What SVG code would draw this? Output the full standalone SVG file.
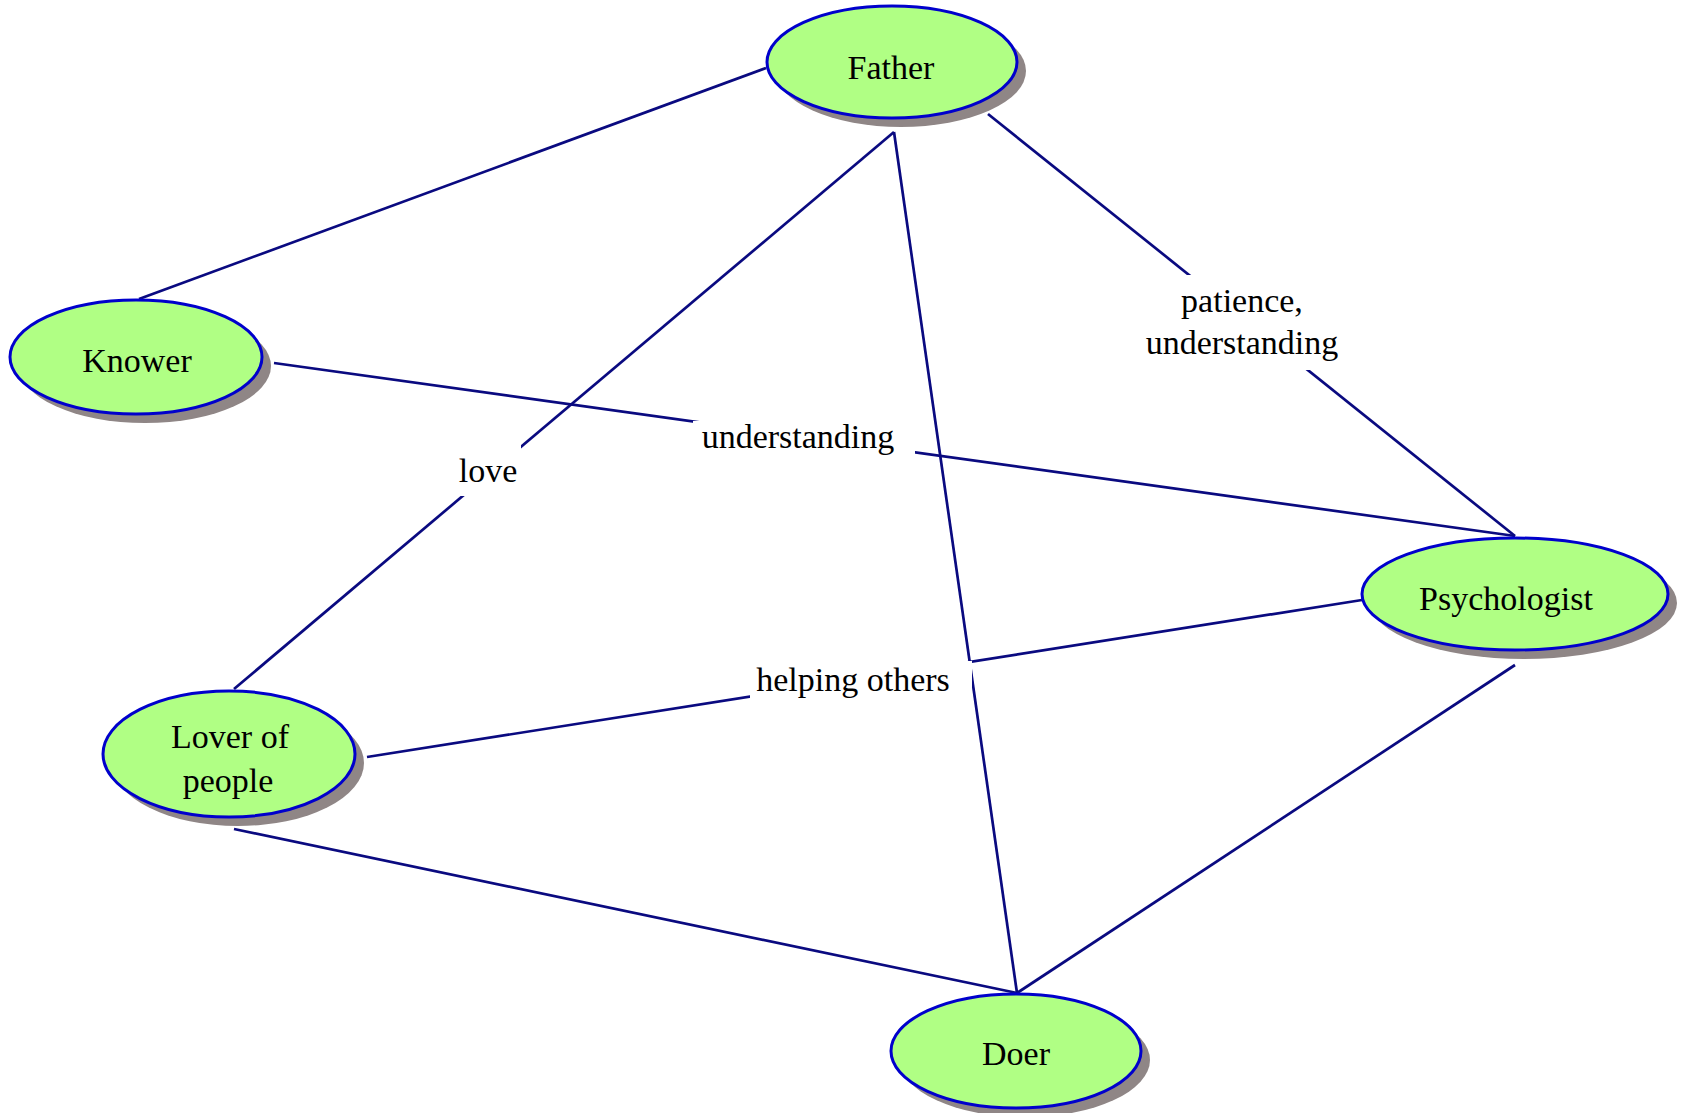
<svg xmlns="http://www.w3.org/2000/svg" width="1682" height="1113" viewBox="0 0 1682 1113">
<style>
.edge{stroke:#0a0a80;stroke-width:2.7;fill:none}
.shadow{fill:#8f8686}
.node{fill:#b0ff84;stroke:#0000cc;stroke-width:3}
text{font-family:"Liberation Serif","Times New Roman",serif;font-size:34px;fill:#000;text-anchor:middle}
.lblbg{fill:#fff}
</style>
<rect width="1682" height="1113" fill="#fff"/>
<g id="connectors">
<line class="edge" x1="766" y1="68" x2="139" y2="299"/>
<line class="edge" x1="894" y1="132" x2="234" y2="689"/>
<line class="edge" x1="894" y1="132" x2="1017" y2="993"/>
<line class="edge" x1="988" y1="114" x2="1515" y2="536"/>
<line class="edge" x1="274" y1="363" x2="1515" y2="536"/>
<line class="edge" x1="367" y1="757" x2="1362" y2="600"/>
<line class="edge" x1="234" y1="829" x2="1017" y2="993"/>
<line class="edge" x1="1515" y1="665" x2="1017" y2="993"/>
<g id="label-love">
<rect class="lblbg" x="456" y="444" width="65" height="52"/>
<text x="488" y="482">love</text>
</g>
<g id="label-understanding">
<rect class="lblbg" x="693" y="421" width="222" height="40"/>
<text x="798" y="448">understanding</text>
</g>
<g id="label-patience">
<rect class="lblbg" x="1140" y="275" width="204" height="95"/>
<text x="1242" y="312">patience,</text>
<text x="1242" y="354">understanding</text>
</g>
<g id="label-helping">
<rect class="lblbg" x="750" y="661" width="222" height="44"/>
<text x="853" y="691">helping others</text>
</g>
</g>
<g id="node-father">
<ellipse class="shadow" cx="901" cy="71" rx="125" ry="56"/>
<ellipse class="node" cx="892" cy="62" rx="125" ry="56"/>
<text x="891" y="79">Father</text>
</g>
<g id="node-knower">
<ellipse class="shadow" cx="145" cy="366" rx="126" ry="57"/>
<ellipse class="node" cx="136" cy="357" rx="126" ry="57"/>
<text x="137" y="372">Knower</text>
</g>
<g id="node-lover">
<ellipse class="shadow" cx="238" cy="763" rx="126" ry="63"/>
<ellipse class="node" cx="229" cy="754" rx="126" ry="63"/>
<text x="230" y="748">Lover of</text>
<text x="228" y="792">people</text>
</g>
<g id="node-psychologist">
<ellipse class="shadow" cx="1524" cy="603" rx="153" ry="56"/>
<ellipse class="node" cx="1515" cy="594" rx="153" ry="56"/>
<text x="1506" y="610">Psychologist</text>
</g>
<g id="node-doer">
<ellipse class="shadow" cx="1025" cy="1060" rx="125" ry="57"/>
<ellipse class="node" cx="1016" cy="1051" rx="125" ry="57"/>
<text x="1016" y="1065">Doer</text>
</g>
</svg>
